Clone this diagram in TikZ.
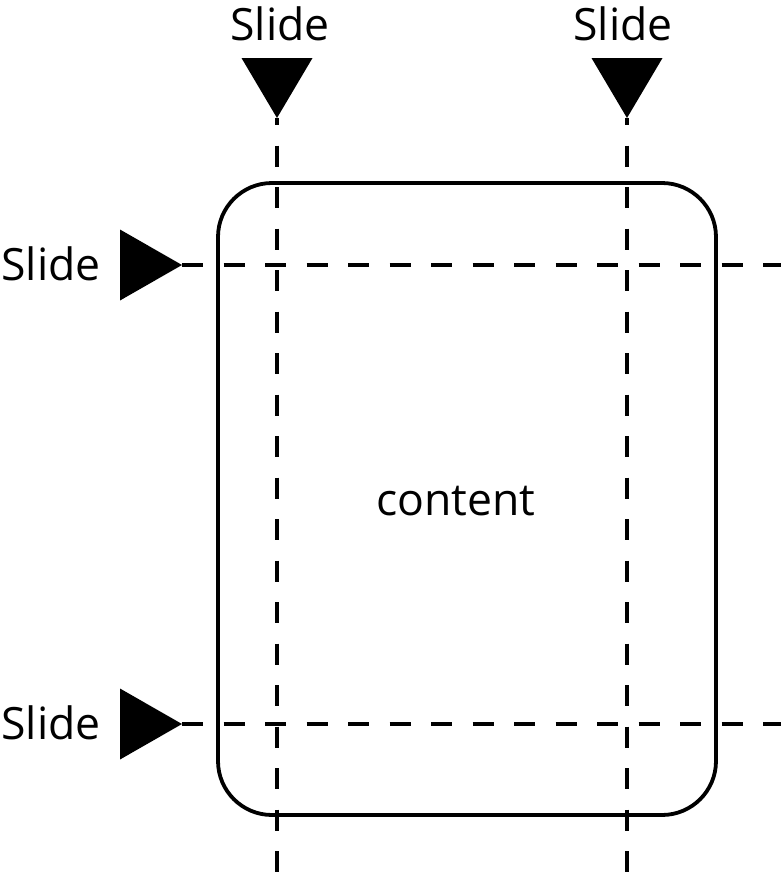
\documentclass[tikz,border=0pt]{standalone}
\usepackage{fontspec}
\setmainfont{Open Sans}
\begin{document}
\begin{tikzpicture}[x=1pt,y=-1pt,
  lbl/.style={font=\fontsize{44.5}{52}\selectfont, inner sep=0pt},
  guide/.style={line width=3.6pt, dash pattern=on 21pt off 20.5pt},
  marker/.style={fill=black}]
\useasboundingbox (0,0) rectangle (781,881);
% box
\node[draw, line width=3.8pt, rounded corners=54pt, minimum width=498pt, minimum height=632pt, inner sep=0pt, outer sep=0pt] (box) at (467,499) {};
\node[lbl] (content) at (456,501) {content};
% top markers
\coordinate (tA) at (277,118);
\coordinate (tB) at (627,118);
\fill[marker] (tA) -- ++(-35.5,-60) -- ++(71,0) -- cycle;
\fill[marker] (tB) -- ++(-35.5,-60) -- ++(71,0) -- cycle;
\node[lbl] (sA) at (280,24) {Slide};
\node[lbl] (sB) at (623,24) {Slide};
\coordinate (eA) at (277,881);
\coordinate (eB) at (627,881);
\draw[guide, dash phase=14pt] (tA) -- (eA);
\draw[guide, dash phase=14pt] (tB) -- (eB);
% left markers
\coordinate (lA) at (182,265);
\coordinate (lB) at (182,724);
\fill[marker] (lA) -- ++(-62,-35.5) -- ++(0,71) -- cycle;
\fill[marker] (lB) -- ++(-62,-35.5) -- ++(0,71) -- cycle;
\node[lbl] (sC) at (51,264) {Slide};
\node[lbl] (sD) at (51,723) {Slide};
\coordinate (fA) at (781,265);
\coordinate (fB) at (781,724);
\draw[guide] (lA) -- (fA);
\draw[guide] (lB) -- (fB);
\end{tikzpicture}
\end{document}
